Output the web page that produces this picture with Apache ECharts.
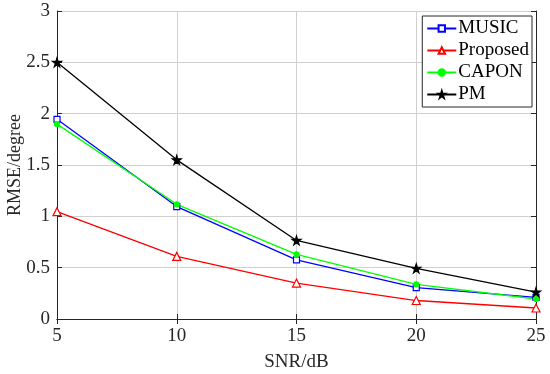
<!DOCTYPE html>
<html><head><meta charset="utf-8">
<script src="https://cdn.jsdelivr.net/npm/echarts@6/dist/echarts.min.js"></script>
<style>html,body{margin:0;padding:0;background:#fff}#c{width:550px;height:374px}</style>
</head><body><div id="c"></div>
<script>
var snr = [5, 10, 15, 20, 25];
var music = [1.945, 1.095, 0.575, 0.305, 0.21];
var proposed = [1.045, 0.61, 0.35, 0.18, 0.107];
var capon = [1.898, 1.117, 0.63, 0.338, 0.195];
var pm = [2.5, 1.55, 0.765, 0.494, 0.262];
var seriesNames = ['MUSIC', 'Proposed', 'CAPON', 'PM'];

function pairs(v){ return snr.map(function(x,i){ return [x, v[i]]; }); }
var font = 'Liberation Serif';
var chart = echarts.init(document.getElementById('c'));
var grid = {left:57, right:14, top:11, bottom:55, containLabel:false, outerBoundsMode:'none'};
function mk(name, data, color, symbol, size, hollow){
  return {name:name, type:'line', data:pairs(data), symbol:symbol, symbolSize:size,
    showAllSymbol:true, lineStyle:{color:color, width:1.3},
    itemStyle:{color: hollow ? '#fff' : color, borderColor:color, borderWidth:1.2},
    animation:false, z:3};
}
chart.setOption({
  animation:false,
  grid:grid,
  xAxis:[{type:'value', min:5, max:25, interval:5, name:'SNR/dB', nameLocation:'middle', nameGap:34, nameMoveOverlap:false,
    nameTextStyle:{fontFamily:font, fontSize:19, color:'#262626'},
    axisLine:{lineStyle:{color:'#262626'}}, axisTick:{inside:true, length:5, lineStyle:{color:'#262626'}},
    axisLabel:{fontFamily:font, fontSize:19, color:'#262626', margin:8},
    splitLine:{show:true, lineStyle:{color:'#d0d0d0', width:1}}},
   {type:'value', min:5, max:25, interval:5, position:'top',
    axisLine:{lineStyle:{color:'#262626'}}, axisTick:{inside:true, length:5, lineStyle:{color:'#262626'}},
    axisLabel:{show:false}, splitLine:{show:false}}],
  yAxis:[{type:'value', min:0, max:3, interval:0.5, name:'RMSE/degree', nameLocation:'middle', nameGap:33, nameMoveOverlap:false,
    nameTextStyle:{fontFamily:font, fontSize:18, color:'#262626'},
    axisLine:{show:true, lineStyle:{color:'#262626'}}, axisTick:{show:true, inside:true, length:5, lineStyle:{color:'#262626'}},
    axisLabel:{fontFamily:font, fontSize:19, color:'#262626', margin:7},
    splitLine:{show:true, lineStyle:{color:'#d0d0d0', width:1}}},
   {type:'value', min:0, max:3, interval:0.5, position:'right',
    axisLine:{show:true, lineStyle:{color:'#262626'}}, axisTick:{show:true, inside:true, length:5, lineStyle:{color:'#262626'}},
    axisLabel:{show:false}, splitLine:{show:false}}],
  legend:{data:seriesNames, orient:'vertical', right:18, top:16, itemGap:3, itemWidth:29, itemHeight:8,
    backgroundColor:'#fff', borderColor:'#262626', borderWidth:1, padding:[3,3,3,4],
    textStyle:{fontFamily:font, fontSize:19, color:'#000', padding:[0,0,0,-3]}},
  series:[
    mk('MUSIC', music, '#0000ff', 'rect', 6, true),
    mk('Proposed', proposed, '#ff0000', 'triangle', 8, true),
    mk('CAPON', capon, '#00ff00', 'circle', 5, false),
    mk('PM', pm, '#000000', 'path://M50,0 L61,35 L98,35 L68,57 L79,91 L50,70 L21,91 L32,57 L2,35 L39,35 Z', 9, false)
  ]
});
</script></body></html>
